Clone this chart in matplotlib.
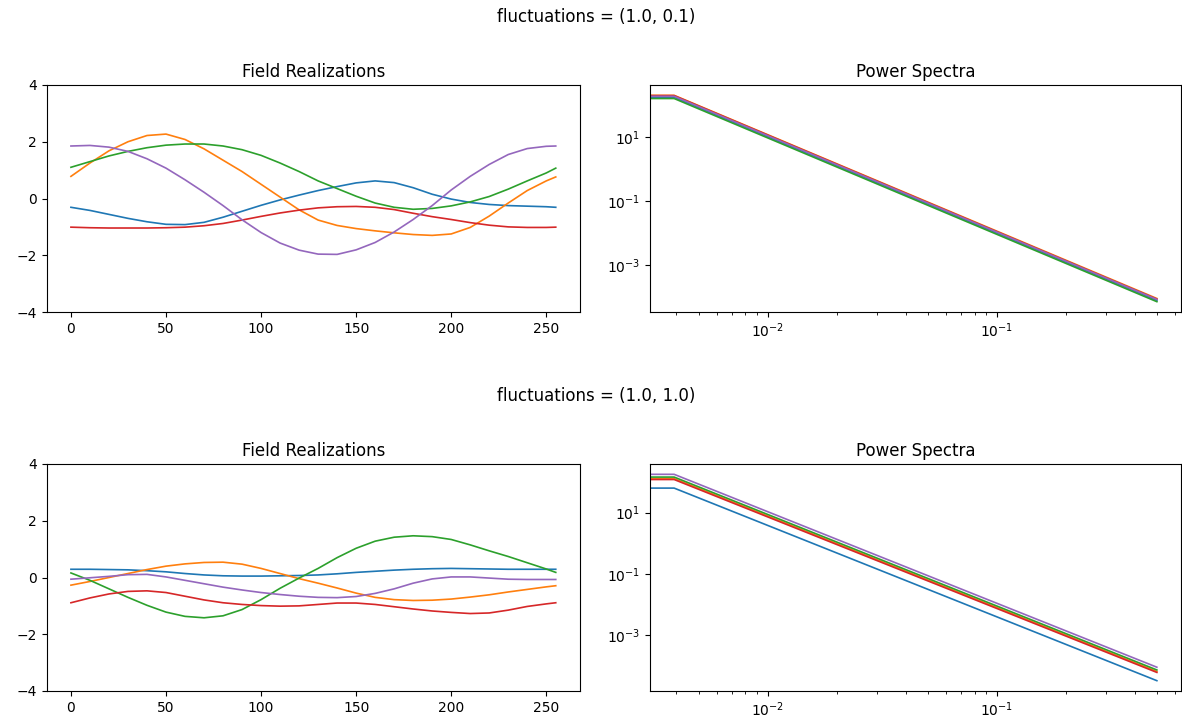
import numpy as np
import matplotlib.pyplot as plt
from matplotlib.ticker import NullLocator

# sample positions of the field realizations
xs = [0, 10, 20, 30, 40, 50, 60, 70, 80, 90, 100, 110, 120, 130, 140, 150,
      160, 170, 180, 190, 200, 210, 220, 230, 240, 250, 255]

# fluctuations = (1.0, 0.1)
top_blue = [-0.31, -0.42, -0.56, -0.70, -0.82, -0.91, -0.92, -0.84, -0.66, -0.45, -0.24, -0.05, 0.12, 0.28,
            0.42, 0.55, 0.62, 0.56, 0.38, 0.15, -0.02, -0.14, -0.21, -0.25, -0.27, -0.29, -0.31]
top_orange = [0.78, 1.25, 1.68, 2.00, 2.22, 2.27, 2.08, 1.75, 1.35, 0.95, 0.50, 0.05, -0.40, -0.76,
              -0.95, -1.06, -1.14, -1.21, -1.27, -1.30, -1.25, -1.02, -0.62, -0.16, 0.28, 0.62, 0.76]
top_green = [1.10, 1.30, 1.50, 1.66, 1.79, 1.88, 1.92, 1.92, 1.85, 1.72, 1.52, 1.25, 0.95, 0.62,
             0.35, 0.08, -0.16, -0.31, -0.38, -0.35, -0.26, -0.12, 0.07, 0.33, 0.62, 0.90, 1.07]
top_red = [-1.01, -1.03, -1.04, -1.04, -1.04, -1.03, -1.01, -0.96, -0.88, -0.76, -0.63, -0.51, -0.41, -0.33,
           -0.29, -0.28, -0.31, -0.39, -0.52, -0.64, -0.74, -0.85, -0.94, -1.00, -1.02, -1.02, -1.01]
top_purple = [1.85, 1.87, 1.81, 1.66, 1.40, 1.07, 0.66, 0.22, -0.25, -0.75, -1.20, -1.57, -1.82, -1.96,
              -1.97, -1.81, -1.55, -1.18, -0.74, -0.25, 0.30, 0.78, 1.20, 1.55, 1.76, 1.84, 1.85]

# fluctuations = (1.0, 1.0)
bot_blue = [0.29, 0.29, 0.28, 0.27, 0.24, 0.20, 0.14, 0.09, 0.06, 0.05, 0.05, 0.06, 0.07, 0.09,
            0.13, 0.18, 0.22, 0.26, 0.29, 0.31, 0.32, 0.31, 0.30, 0.29, 0.29, 0.29, 0.29]
bot_orange = [-0.27, -0.14, 0.00, 0.14, 0.28, 0.40, 0.48, 0.53, 0.54, 0.47, 0.32, 0.14, -0.04, -0.20,
              -0.37, -0.55, -0.70, -0.78, -0.81, -0.80, -0.76, -0.69, -0.61, -0.51, -0.42, -0.33, -0.29]
bot_green = [0.16, -0.10, -0.40, -0.70, -0.98, -1.22, -1.37, -1.42, -1.35, -1.13, -0.78, -0.38, -0.02, 0.32,
             0.70, 1.03, 1.28, 1.42, 1.47, 1.44, 1.34, 1.15, 0.94, 0.74, 0.52, 0.30, 0.18]
bot_red = [-0.89, -0.72, -0.58, -0.49, -0.47, -0.53, -0.66, -0.79, -0.89, -0.95, -0.99, -1.01, -1.00, -0.95,
           -0.90, -0.90, -0.95, -1.03, -1.11, -1.18, -1.23, -1.27, -1.25, -1.15, -1.02, -0.93, -0.89]
bot_purple = [-0.06, -0.01, 0.04, 0.10, 0.11, 0.02, -0.10, -0.22, -0.34, -0.44, -0.53, -0.60, -0.66, -0.70,
              -0.71, -0.67, -0.56, -0.40, -0.20, -0.05, 0.02, 0.02, -0.02, -0.06, -0.07, -0.07, -0.07]

# power spectra: frequencies and log10 power read at the first frequency and at the last one
k = [0.0, 1 / 256, 0.5]
top_logp_first = [2.24, 2.30, 2.20, 2.29, 2.27]   # blue, orange, green, red, purple
top_logp_last = [-4.10, -4.04, -4.14, -4.06, -4.07]
bot_logp_first = [1.80, 2.11, 2.16, 2.08, 2.25]
bot_logp_last = [-4.49, -4.19, -4.14, -4.22, -4.05]

field_ticks = [-4, -2, 0, 2, 4]
spec_ticks = [1e-3, 1e-1, 1e1]

rows = [
    ("fluctuations = (1.0, 0.1)", [top_blue, top_orange, top_green, top_red, top_purple],
     top_logp_first, top_logp_last),
    ("fluctuations = (1.0, 1.0)", [bot_blue, bot_orange, bot_green, bot_red, bot_purple],
     bot_logp_first, bot_logp_last),
]

W, H = 1182, 725
fig = plt.figure(figsize=(W / 100, H / 100), dpi=100)

row_top = [85, 464]       # pixel top of each row of axes
row_h = 227
title_y = [17, 396]

for r, (name, fields, pfirst, plast) in enumerate(rows):
    bottom = 1 - (row_top[r] + row_h) / H
    height = row_h / H
    ax1 = fig.add_axes([46.7 / W, bottom, 533.3 / W, height])
    ax2 = fig.add_axes([650 / W, bottom, 531 / W, height])

    for f in fields:
        ax1.plot(xs, f, lw=1.2)
    ax1.set_ylim(-4, 4)
    ax1.set_yticks(field_ticks)
    ax1.set_title("Field Realizations")

    for i in range(5):
        p = [10 ** pfirst[i], 10 ** pfirst[i], 10 ** plast[i]]
        ax2.plot(k, p, lw=1.2)
    ax2.set_xscale("log")
    ax2.set_yscale("log")
    ax2.set_yticks(spec_ticks)
    ax2.yaxis.set_minor_locator(NullLocator())
    ax2.set_title("Power Spectra")

    fig.text(596 / W, 1 - title_y[r] / H, name, ha="center", va="center", fontsize=12)

plt.savefig("out.png", dpi=100)
